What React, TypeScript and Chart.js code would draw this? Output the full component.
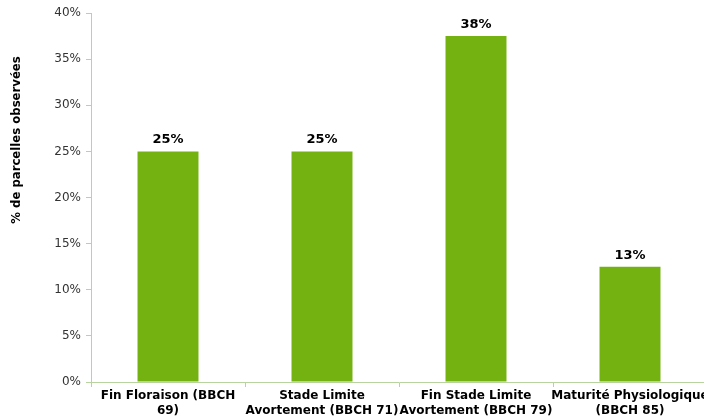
import { useEffect, useRef } from "react";
import { Chart, registerables } from "chart.js";

Chart.register(...registerables);

const categories: string[][] = [
  ["Fin Floraison (BBCH", "69)"],
  ["Stade Limite", "Avortement (BBCH 71)"],
  ["Fin Stade Limite", "Avortement (BBCH 79)"],
  ["Maturité Physiologique", "(BBCH 85)"],
];
const values: number[] = [25, 25, 37.5, 12.5];
const yTitle = "% de parcelles observées";
const yMin = 0;
const yMax = 40;
const yStep = 5;

const FONT = "'DejaVu Sans', Verdana, sans-serif";
const AXIS_COLOR = "#b9d3a0";
const BAR_COLOR = "#74b212";

const valueLabels = {
  id: "valueLabels",
  afterDatasetsDraw(chart: any) {
    const ctx = chart.ctx;
    const meta = chart.getDatasetMeta(0);
    ctx.save();
    ctx.font = `bold 13px ${FONT}`;
    ctx.fillStyle = "#000";
    ctx.textAlign = "center";
    ctx.textBaseline = "alphabetic";
    meta.data.forEach((el: any, i: number) => {
      const v = chart.data.datasets[0].data[i] as number;
      ctx.fillText(Math.round(v) + "%", el.x, el.y - 8);
    });
    ctx.restore();
  },
};

const yTitlePlugin = {
  id: "yTitlePlugin",
  afterDraw(chart: any) {
    const ctx = chart.ctx;
    ctx.save();
    ctx.font = `bold 11.7px ${FONT}`;
    ctx.fillStyle = "#000";
    ctx.textAlign = "center";
    ctx.textBaseline = "middle";
    ctx.translate(17, 140);
    ctx.rotate(-Math.PI / 2);
    ctx.fillText(yTitle, 0, 0);
    ctx.restore();
  },
};

export default function App() {
  const ref = useRef<HTMLCanvasElement>(null);
  useEffect(() => {
    if (!ref.current) return;
    const chart = new Chart(ref.current, {
      type: "bar",
      data: {
        labels: categories,
        datasets: [
          {
            data: values,
            backgroundColor: BAR_COLOR,
            borderWidth: 0,
            barPercentage: 0.396,
            categoryPercentage: 1,
          },
        ],
      },
      options: {
        responsive: false,
        animation: false,
        devicePixelRatio: 1,
        layout: { padding: { top: 13, right: 13, bottom: 0, left: 0 } },
        plugins: {
          legend: { display: false },
          tooltip: { enabled: false },
        },
        scales: {
          x: {
            afterFit(scale: any) {
              scale.height = 38;
            },
            grid: {
              display: true,
              offset: true,
              drawOnChartArea: false,
              drawTicks: true,
              tickLength: 5,
              color: AXIS_COLOR,
            },
            border: { display: true, color: AXIS_COLOR },
            ticks: {
              autoSkip: false,
              maxRotation: 0,
              minRotation: 0,
              padding: 2,
              color: "#000",
              font: { family: FONT, size: 12, weight: "bold", lineHeight: 1.2 },
            },
          },
          y: {
            min: yMin,
            max: yMax,
            afterFit(scale: any) {
              scale.width = 91;
            },
            grid: {
              display: true,
              drawOnChartArea: false,
              drawTicks: true,
              tickLength: 5,
              color: AXIS_COLOR,
            },
            border: { display: true, color: AXIS_COLOR },
            ticks: {
              stepSize: yStep,
              padding: 5,
              color: "#333",
              font: { family: FONT, size: 12 },
              callback: (v: any) => v + "%",
            },
          },
        },
      },
      plugins: [valueLabels, yTitlePlugin],
    });
    return () => chart.destroy();
  }, []);
  return (
    <div
      style={{
        position: "fixed",
        left: 0,
        top: 0,
        width: 704,
        height: 420,
        overflow: "hidden",
        background: "#fff",
      }}
    >
      <canvas ref={ref} width={720} height={420} style={{ display: "block" }} />
    </div>
  );
}
